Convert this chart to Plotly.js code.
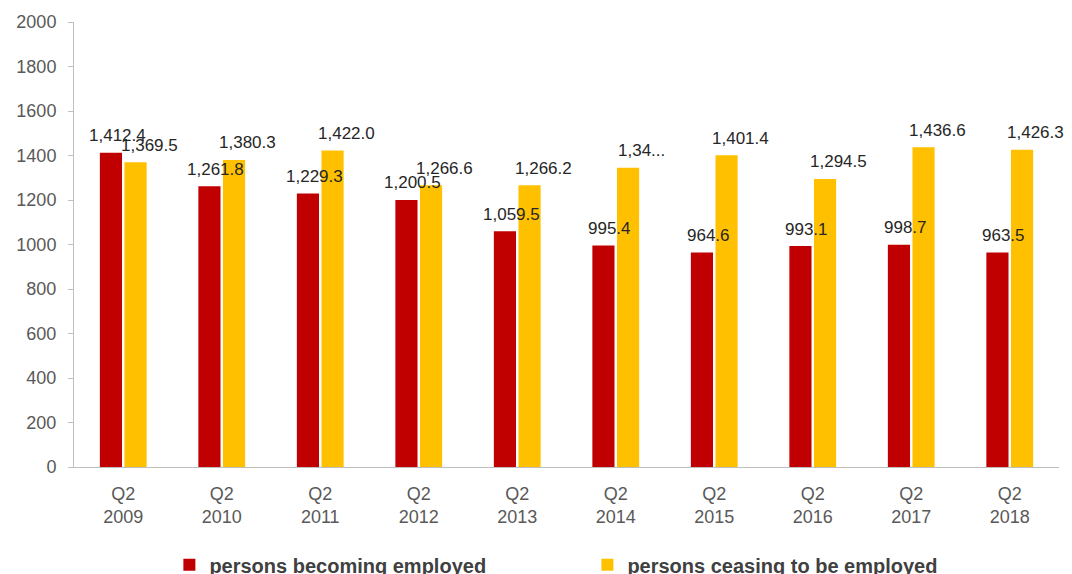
<!DOCTYPE html>
<html><head><meta charset="utf-8">
<script src="https://cdn.plot.ly/plotly-3.0.1.min.js"></script>
<style>html,body{margin:0;padding:0;background:#fff;}#chart{width:1072px;height:574px;}</style>
</head><body><div id="chart"></div>
<script>
var categories = ["Q2<br>2009","Q2<br>2010","Q2<br>2011","Q2<br>2012","Q2<br>2013","Q2<br>2014","Q2<br>2015","Q2<br>2016","Q2<br>2017","Q2<br>2018"];
var becoming = [1412.4, 1261.8, 1229.3, 1200.5, 1059.5, 995.4, 964.6, 993.1, 998.7, 963.5];
var ceasing = [1369.5, 1380.3, 1422.0, 1266.6, 1266.2, 1345.0, 1401.4, 1294.5, 1436.6, 1426.3];
var becomingLabels = ["1,412.4","1,261.8","1,229.3","1,200.5","1,059.5","995.4","964.6","993.1","998.7","963.5"];
var ceasingLabels = ["1,369.5","1,380.3","1,422.0","1,266.6","1,266.2","1,34...","1,401.4","1,294.5","1,436.6","1,426.3"];

var FONT = "Liberation Sans, Arial, sans-serif";
var labelFont = {family: FONT, size: 17, color: "#262626"};

var traces = [
  {type: "bar", name: "persons becoming employed", x: categories, y: becoming,
   marker: {color: "#C00000"}, hoverinfo: "y"},
  {type: "bar", name: "persons ceasing to be employed", x: categories, y: ceasing,
   marker: {color: "#FFC000"}, hoverinfo: "y"}
];

var annotations = [];
function addLabels(values, labels, xshift) {
  for (var i = 0; i < values.length; i++) {
    annotations.push({x: categories[i], y: values[i], xref: "x", yref: "y",
      text: labels[i], showarrow: false, xanchor: "center", yanchor: "middle",
      xshift: xshift, yshift: 17, font: labelFont});
  }
}
addLabels(becoming, becomingLabels, -6);
addLabels(ceasing, ceasingLabels, 26);

var layout = {
  width: 1072, height: 574,
  margin: {l: 74, r: 13, t: 22, b: 107},
  paper_bgcolor: "#fff", plot_bgcolor: "#fff",
  barmode: "group", bargap: 0.5, bargroupgap: 0.1,
  font: {family: FONT, color: "#595959", size: 18},
  xaxis: {range: [-0.5, categories.length - 0.5], showline: true, linecolor: "#BFBFBF", linewidth: 1,
          ticks: "", showgrid: false, tickfont: {size: 18, color: "#595959"}, zeroline: false,
          ticklabelstandoff: 10, automargin: false},
  yaxis: {range: [0, 2000], dtick: 200, showline: true, linecolor: "#BFBFBF", linewidth: 1,
          ticks: "outside", ticklen: 5, tickcolor: "#BFBFBF", showgrid: false, zeroline: false,
          tickfont: {size: 18, color: "#595959"}, ticklabelstandoff: 8, automargin: false},
  annotations: annotations,
  showlegend: true,
  legend: {orientation: "h", x: 0.158, xref: "container", xanchor: "left",
           y: 0.05, yref: "container", yanchor: "top", itemwidth: 30,
           font: {size: 20, color: "#404040", weight: "bold"},
           entrywidth: 373, entrywidthmode: "pixels", traceorder: "normal"}
};
Plotly.newPlot("chart", traces, layout, {displayModeBar: false, staticPlot: true});
</script></body></html>
